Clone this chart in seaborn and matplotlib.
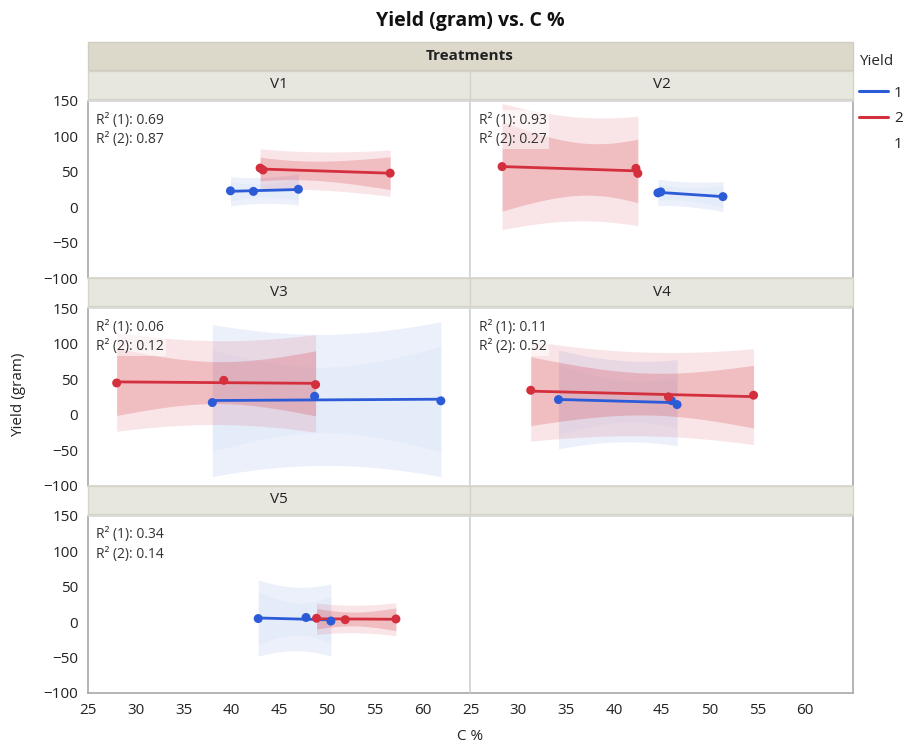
import numpy as np
import pandas as pd
import matplotlib
matplotlib.use("Agg")
import matplotlib.pyplot as plt
from matplotlib.patches import Rectangle
from matplotlib.lines import Line2D
import seaborn as sns

# values (C %, Yield in gram), group 1 = blue, group 2 = red
treatments = ["V1", "V2", "V3", "V4", "V5"]

v1_c_1 = [39.9, 42.3, 47.0]
v1_yield_1 = [23.3, 22.5, 25.5]
v1_c_2 = [43.0, 43.3, 56.6]
v1_yield_2 = [55.4, 52.7, 48.2]

v2_c_1 = [44.6, 44.9, 51.4]
v2_yield_1 = [20.4, 21.8, 15.1]
v2_c_2 = [28.3, 42.3, 42.5]
v2_yield_2 = [57.5, 55.0, 47.9]

v3_c_1 = [38.0, 48.7, 61.9]
v3_yield_1 = [17.2, 26.0, 19.6]
v3_c_2 = [28.0, 39.2, 48.8]
v3_yield_2 = [44.8, 48.5, 42.5]

v4_c_1 = [34.2, 46.0, 46.6]
v4_yield_1 = [21.4, 20.0, 14.3]
v4_c_2 = [31.3, 45.7, 54.6]
v4_yield_2 = [34.5, 25.2, 27.5]

v5_c_1 = [42.8, 47.8, 50.4]
v5_yield_1 = [5.0, 6.5, 1.5]
v5_c_2 = [48.9, 51.9, 57.2]
v5_yield_2 = [5.4, 3.4, 4.4]

r2_1 = [0.69, 0.93, 0.06, 0.11, 0.34]
r2_2 = [0.87, 0.27, 0.12, 0.52, 0.14]

groups = ["1", "2"]
colors = {"1": "#2b5bd7", "2": "#d42f3d"}

# build a long table
rows = []
c_lists = [(v1_c_1, v1_yield_1, v1_c_2, v1_yield_2),
           (v2_c_1, v2_yield_1, v2_c_2, v2_yield_2),
           (v3_c_1, v3_yield_1, v3_c_2, v3_yield_2),
           (v4_c_1, v4_yield_1, v4_c_2, v4_yield_2),
           (v5_c_1, v5_yield_1, v5_c_2, v5_yield_2)]
for t, (c1, y1, c2, y2) in zip(treatments, c_lists):
    for c, y in zip(c1, y1):
        rows.append({"Treatments": t, "Yield": "1", "C %": c, "Yield (gram)": y})
    for c, y in zip(c2, y2):
        rows.append({"Treatments": t, "Yield": "2", "C %": c, "Yield (gram)": y})
df = pd.DataFrame(rows)

# two-sided 95% t quantiles
T975 = {1: 12.706, 2: 4.303, 3: 3.182, 4: 2.776}


def line_of_fit(x, y):
    x = np.asarray(x, float)
    y = np.asarray(y, float)
    n = len(x)
    b, a = np.polyfit(x, y, 1)
    grid = np.linspace(x.min(), x.max(), 60)
    fit = a + b * grid
    s = np.sqrt(np.sum((y - (a + b * x)) ** 2) / (n - 2))
    lev = 1 / n + (grid - x.mean()) ** 2 / np.sum((x - x.mean()) ** 2)
    t = T975[n - 2]
    return grid, fit, t * s * np.sqrt(lev), t * s * np.sqrt(1 + lev)


sns.set_style("white")
plt.rcParams["font.family"] = ["Open Sans", "DejaVu Sans"]

fig, axes = plt.subplots(3, 2, figsize=(9.07, 7.47), dpi=100, sharex=True, sharey=True)
fig.subplots_adjust(left=88 / 907, right=853 / 907, bottom=1 - 693 / 747,
                    top=1 - 101 / 747, wspace=0.0, hspace=0.17)

band_alpha = {"1": (0.09, 0.03), "2": (0.12, 0.22)}

for i, ax in enumerate(axes.flat):
    ax.set_xlim(25, 65)
    ax.set_ylim(-100, 150)
    ax.set_xticks(np.arange(25, 61, 5))
    ax.set_yticks(np.arange(-100, 151, 50))
    ax.set_yticks(np.arange(-75, 150, 50), minor=True)
    ax.tick_params(axis="both", which="major", direction="out", length=5, width=1,
                   color="#9a9a9a", labelsize=11, labelcolor="#222222", pad=2)
    ax.tick_params(axis="y", which="minor", direction="out", length=3, width=1, color="#9a9a9a")
    row, col = divmod(i, 2)
    if row < 2:
        ax.tick_params(axis="x", bottom=False)
    if col == 1:
        ax.tick_params(axis="y", which="both", left=False)
    for sp in ax.spines.values():
        sp.set_color("#d4d4d4")
        sp.set_linewidth(1.2)
    if col == 0:
        ax.spines["left"].set_color("#a8a8a8")
    if row == 2:
        ax.spines["bottom"].set_color("#a8a8a8")
    if col == 1:
        ax.spines["right"].set_color("#a8a8a8")
    ax.set_xlabel("")
    ax.set_ylabel("")

    # header strip above each panel
    hdr = 28 / 178
    ax.add_patch(Rectangle((0, 1.012), 1, hdr, transform=ax.transAxes, clip_on=False,
                           facecolor="#e8e7df", edgecolor="#d6d4ca", linewidth=1))
    if i < len(treatments):
        ax.text(0.5, 1.012 + hdr / 2, treatments[i], transform=ax.transAxes,
                ha="center", va="center", fontsize=11, color="#222222")

    if i >= len(treatments):
        continue
    sub = df[df["Treatments"] == treatments[i]]

    for g in groups:
        gd = sub[sub["Yield"] == g]
        grid, fit, ci, pi = line_of_fit(gd["C %"], gd["Yield (gram)"])
        a_out, a_in = band_alpha[g]
        ax.fill_between(grid, fit - pi, fit + pi, color=colors[g], alpha=a_out, lw=0, zorder=1)
        ax.fill_between(grid, fit - ci, fit + ci, color=colors[g], alpha=a_in, lw=0, zorder=1)
        sns.lineplot(x=grid, y=fit, color=colors[g], linewidth=2, ax=ax, zorder=3)

    sns.scatterplot(data=sub, x="C %", y="Yield (gram)", hue="Yield", palette=colors,
                    s=42, edgecolor="none", legend=False, ax=ax, zorder=4)
    ax.set_xlabel("")
    ax.set_ylabel("")

    ax.text(0.022, 0.935, f"R\u00b2 (1): {r2_1[i]:.2f}\nR\u00b2 (2): {r2_2[i]:.2f}",
            transform=ax.transAxes, ha="left", va="top", fontsize=10, color="#333333",
            linespacing=1.4, zorder=5,
            bbox=dict(boxstyle="square,pad=0.15", facecolor="white", alpha=0.55, edgecolor="none"))

# Treatments band
fig.patches.append(Rectangle((88 / 907, 1 - 70 / 747), (853 - 88) / 907, 28 / 747,
                             transform=fig.transFigure, facecolor="#dcd9cb",
                             edgecolor="#d0cdc0", linewidth=1))
fig.text(470 / 907, 1 - 56 / 747, "Treatments", ha="center", va="center",
         fontsize=11, fontweight="bold", color="#222222")

fig.text(470 / 907, 1 - 21 / 747, "Yield (gram) vs. C %", ha="center", va="center",
         fontsize=14, fontweight="bold", color="#111111")
fig.text(470 / 907, 1 - 737 / 747, "C %", ha="center", va="center", fontsize=11, color="#222222")
fig.text(19 / 907, 1 - 395 / 747, "Yield (gram)", rotation=90, ha="center", va="center",
         fontsize=11, color="#222222")

handles = [Line2D([], [], color=colors["1"], lw=2.2),
           Line2D([], [], color=colors["2"], lw=2.2),
           Line2D([], [], color="none")]
leg = fig.legend(handles, ["1", "2", "1"], title="Yield", loc="upper left",
                 bbox_to_anchor=(859 / 907, 1 - 54 / 747), frameon=False,
                 fontsize=11, title_fontsize=11, handlelength=1.9, handletextpad=0.4,
                 labelspacing=0.7, borderaxespad=0, borderpad=0)
leg._legend_box.align = "left"
leg._legend_box.sep = 12

fig.savefig("out.png", dpi=100)
